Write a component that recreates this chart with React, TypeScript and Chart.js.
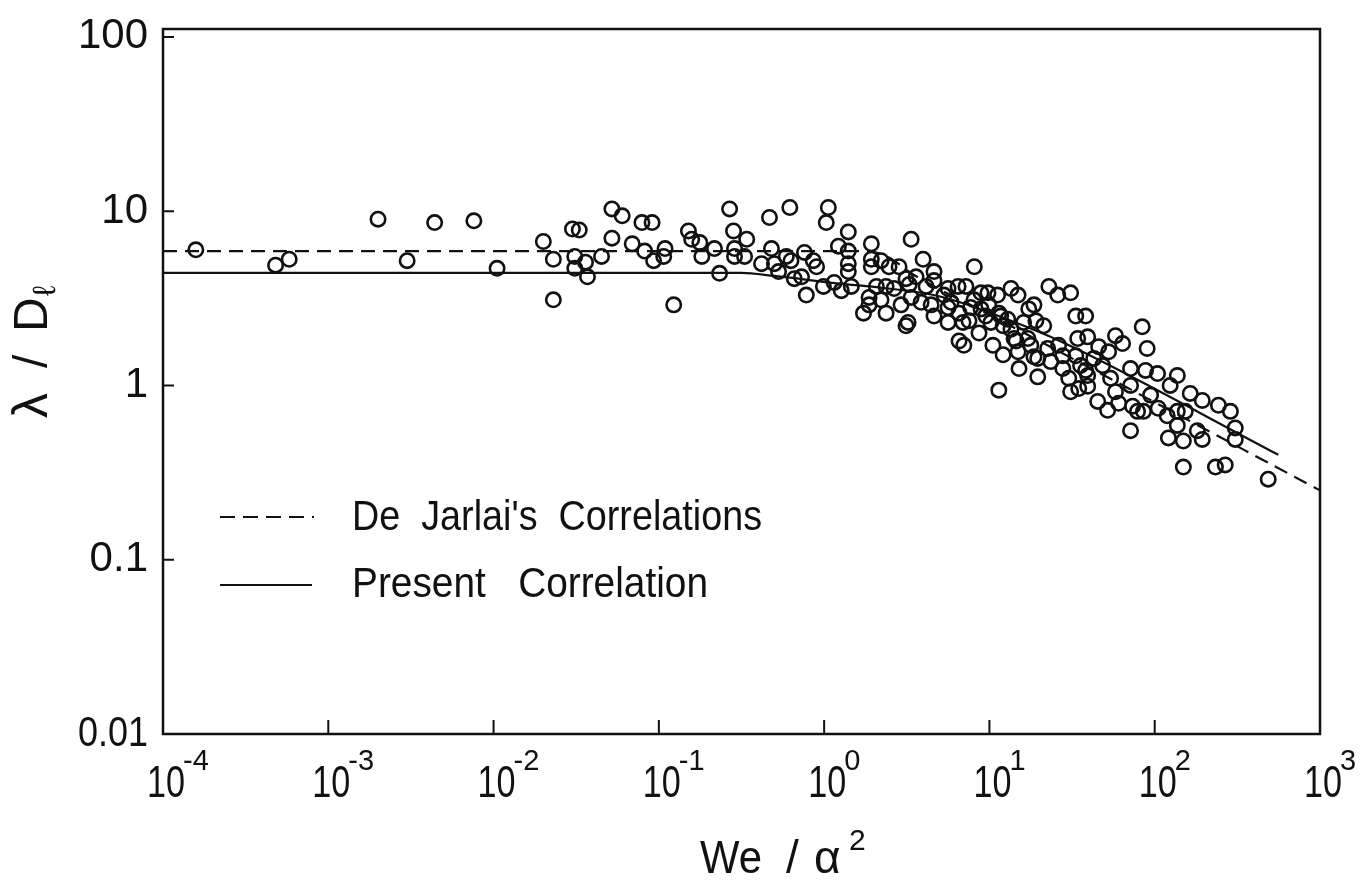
import React, { useEffect, useRef } from "react";
import { Chart, registerables } from "chart.js";

Chart.register(...registerables);

// Measured points: We / a^2 (x) and lambda / D_l (y)
const weValues = [
  1.58e-4, 4.8e-4, 5.8e-4, 2.0e-3, 3.0e-3, 4.4e-3, 7.6e-3, 1.05e-2, 2.0e-2, 2.3e-2,
  2.3e-2, 3.0e-2, 3.3e-2, 3.1e-2, 3.1e-2, 3.6e-2, 3.7e-2, 5.2e-2, 6.0e-2, 7.9e-2,
  9.1e-2, 5.2e-2, 4.5e-2, 6.9e-2, 8.2e-2, 9.3e-2, 0.107, 0.109, 0.123, 0.151,
  0.158, 0.177, 0.182, 0.217, 0.233, 0.268, 0.283, 0.34, 0.287, 0.287,
  0.33, 0.467, 0.418, 0.48, 0.5, 0.53, 0.62, 1.06, 1.03, 1.4,
  3.36, 3.97, 8.1, 0.59, 0.63, 0.76, 0.86, 0.9, 0.66, 0.73,
  0.78, 0.99, 1.15, 1.27, 1.46, 1.22, 1.4, 1.4, 1.4, 1.93,
  1.93, 1.93, 2.21, 2.47, 2.84, 2.07, 2.37, 2.65, 1.87, 2.21,
  1.87, 1.73, 2.37, 2.92, 3.22, 3.27, 3.6, 4.14, 4.62, 4.62,
  3.36, 3.86, 4.44, 4.62, 5.31, 5.62, 6.46, 7.21, 5.86, 5.62,
  6.55, 6.92, 7.52, 8.06, 8.89, 9.8, 11.2, 13.5, 14.9, 9.9,
  9.5, 8.65, 10.2, 11.7, 12.1, 12.9, 13.5, 14.5, 14.9, 15.1,
  16.1, 17.1, 6.55, 7.0, 10.5, 12.1, 11.4, 3.13, 3.13, 5.62,
  7.7, 8.9, 11.4, 14.1, 17.3, 19.1, 21.3, 17.8, 19.6, 19.6,
  22.5, 23.5, 26.2, 27.8, 27.8, 30.2, 34.2, 39.3, 33.3, 35.6,
  39.3, 34.7, 42.8, 45.2, 22.9, 25.9, 31, 33.3, 38.2, 18.6,
  31, 84, 90, 45.8, 52.6, 57.9, 63.9, 71.4, 88, 104,
  137, 124, 164, 194, 243, 287, 307, 307, 486, 149,
  233, 267, 18.6, 38.2, 39.3, 48.4, 54.1, 57.9, 51.9, 60.5,
  71.4, 73.5, 71.4, 78.7, 85.5, 94.4, 105, 119, 121, 137,
  137, 153, 149, 181, 194,
];

const lambdaValues = [
  6.0, 4.9, 5.3, 9.0, 5.2, 8.6, 8.8, 4.7, 6.7, 5.3,
  3.1, 7.9, 7.8, 5.5, 4.7, 5.1, 4.2, 10.3, 9.4, 8.6,
  8.6, 7.0, 5.5, 6.5, 5.9, 5.2, 5.5, 6.1, 2.9, 7.7,
  6.9, 6.6, 5.5, 6.1, 4.4, 10.3, 7.7, 6.9, 6.1, 5.5,
  5.5, 9.2, 5.0, 6.1, 5.0, 4.5, 10.5, 10.5, 8.6, 7.6,
  6.9, 5.3, 4.8, 5.5, 5.2, 5.8, 5.2, 4.8, 4.1, 4.2,
  3.3, 3.7, 3.9, 3.5, 3.7, 6.3, 5.9, 5.0, 4.5, 6.5,
  5.3, 4.8, 5.2, 4.8, 4.8, 3.7, 3.7, 3.6, 3.2, 3.1,
  2.9, 2.6, 2.6, 2.9, 2.3, 3.8, 4.2, 3.7, 4.5, 4.0,
  3.2, 3.0, 2.9, 2.5, 3.3, 3.6, 3.7, 3.7, 3.0, 2.3,
  2.6, 2.3, 2.35, 3.1, 3.4, 3.4, 3.3, 3.6, 3.3, 2.9,
  2.5, 2.0, 2.3, 2.5, 2.2, 2.4, 2.1, 1.8, 1.56, 1.25,
  2.3, 1.86, 1.8, 1.7, 1.7, 1.5, 0.94, 4.1, 2.2, 2.8,
  2.8, 2.75, 2.6, 1.86, 2.75, 2.35, 2.2, 1.7, 1.43, 1.12,
  1.63, 1.37, 1.7, 1.48, 1.25, 1.1, 1.86, 1.9, 1.48, 1.3,
  1.14, 0.96, 1.43, 0.81, 3.7, 3.3, 3.4, 2.5, 2.5, 1.46,
  0.92, 2.17, 1.63, 1.67, 1.56, 1.93, 1.74, 1.25, 1.22, 1.17,
  1.14, 1.0, 0.9, 0.82, 0.77, 0.71, 0.57, 0.49, 0.29, 0.34,
  0.34, 0.35, 2.9, 1.22, 0.99, 1.3, 1.1, 0.92, 0.72, 0.79,
  1.0, 0.76, 0.55, 0.71, 0.71, 0.88, 0.74, 0.67, 0.5, 0.59,
  0.71, 0.71, 0.48, 0.55, 0.49,
];

// De Jarlais correlation (dashed)
const deJarlaisWe = [1e-4, 1.8, 2.4, 3.5, 10, 100, 1000];
const deJarlaisLambda = [5.9, 5.9, 5.5, 4.3, 2.55, 0.8, 0.25];

// Present correlation (solid)
const presentWe = [1e-4, 0.316, 0.5, 1.27, 2.0, 5.1, 17.8, 32.4, 560];
const presentLambda = [4.43, 4.43, 4.25, 3.83, 3.68, 3.23, 2.12, 1.65, 0.4];

const xTickValues = [1e-4, 1e-3, 1e-2, 1e-1, 1, 10, 100, 1000];
const xTickExponents = ["-4", "-3", "-2", "-1", "0", "1", "2", "3"];
const yTickValues = [100, 10, 1, 0.1, 0.01];
const yTickLabels = ["100", "10", "1", "0.1", "0.01"];
const legendLabels = ["De  Jarlai's  Correlations", "Present   Correlation"];

const FONT = '"Liberation Sans", Arial, sans-serif';
const INK = "#111";

const decorPlugin = {
  id: "decor",
  afterDatasetsDraw(chart: any) {
    const { ctx, chartArea: a } = chart;
    const xs = chart.scales.x;
    const ys = chart.scales.y;
    ctx.save();
    ctx.strokeStyle = INK;
    ctx.fillStyle = INK;

    // frame
    ctx.lineWidth = 2.5;
    ctx.setLineDash([]);
    ctx.strokeRect(a.left, a.top, a.right - a.left, a.bottom - a.top);

    // inward ticks
    ctx.lineWidth = 2;
    ctx.beginPath();
    xTickValues.forEach((v) => {
      if (v <= xs.min || v >= xs.max) return;
      const px = xs.getPixelForValue(v);
      ctx.moveTo(px, a.bottom);
      ctx.lineTo(px, a.bottom - 14);
    });
    yTickValues.forEach((v) => {
      if (v <= ys.min || v >= ys.max) return;
      const py = ys.getPixelForValue(v);
      ctx.moveTo(a.left, py);
      ctx.lineTo(a.left + 11, py);
    });
    ctx.stroke();

    // y tick labels
    ctx.font = `42px ${FONT}`;
    ctx.textAlign = "right";
    ctx.textBaseline = "middle";
    yTickValues.forEach((v, i) => {
      ctx.fillText(yTickLabels[i], a.left - 15, ys.getPixelForValue(v), 70);
    });

    // x tick labels 10^n
    xTickValues.forEach((v, i) => {
      const px = xs.getPixelForValue(v);
      ctx.font = `44px ${FONT}`;
      ctx.textAlign = "center";
      ctx.textBaseline = "alphabetic";
      ctx.fillText("10", px + 3, a.bottom + 63, 38);
      ctx.font = `29px ${FONT}`;
      ctx.textAlign = "left";
      ctx.fillText(xTickExponents[i], px + 20, a.bottom + 36);
    });

    // x axis title: We / a^2
    ctx.textAlign = "left";
    ctx.textBaseline = "alphabetic";
    ctx.font = `46px ${FONT}`;
    ctx.fillText("We", 700, 873, 62);
    ctx.fillText("/", 786, 873);
    ctx.fillText("\u03b1", 814, 873);
    ctx.font = `30px ${FONT}`;
    ctx.fillText("2", 849, 850);

    // y axis title: lambda / D_l (rotated)
    ctx.save();
    ctx.translate(47, 418);
    ctx.rotate(-Math.PI / 2);
    ctx.font = `50px ${FONT}`;
    ctx.fillText("\u03bb", 0, 0);
    ctx.font = `48px ${FONT}`;
    ctx.fillText("/", 50, 0);
    ctx.fillText("D", 86, 0);
    ctx.font = `32px ${FONT}`;
    ctx.fillText("\u2113", 122, 8);
    ctx.restore();

    // legend
    ctx.lineWidth = 2;
    ctx.beginPath();
    ctx.setLineDash([15, 8]);
    ctx.moveTo(220, 517);
    ctx.lineTo(314, 517);
    ctx.stroke();
    ctx.setLineDash([]);
    ctx.beginPath();
    ctx.moveTo(220, 585);
    ctx.lineTo(312, 585);
    ctx.stroke();
    ctx.font = `42px ${FONT}`;
    ctx.textAlign = "left";
    ctx.textBaseline = "middle";
    ctx.fillText(legendLabels[0], 352, 518, 410);
    ctx.fillText(legendLabels[1], 352, 585, 356);

    ctx.restore();
  },
};

export default function App() {
  const canvasRef = useRef<HTMLCanvasElement | null>(null);

  useEffect(() => {
    const canvas = canvasRef.current;
    if (!canvas) return;
    const points = weValues.map((x, i) => ({ x, y: lambdaValues[i] }));
    const dashed = deJarlaisWe.map((x, i) => ({ x, y: deJarlaisLambda[i] }));
    const solid = presentWe.map((x, i) => ({ x, y: presentLambda[i] }));

    const chart = new Chart(canvas, {
      type: "scatter",
      data: {
        datasets: [
          {
            label: "Data",
            data: points,
            showLine: false,
            pointStyle: "circle",
            pointRadius: 7.2,
            pointBorderWidth: 2.6,
            pointBorderColor: INK,
            pointBackgroundColor: "rgba(0,0,0,0)",
            borderColor: INK,
            backgroundColor: "rgba(0,0,0,0)",
          },
          {
            label: "De Jarlai's Correlations",
            data: dashed,
            showLine: true,
            borderColor: INK,
            borderWidth: 2.2,
            borderDash: [14, 8],
            pointRadius: 0,
            cubicInterpolationMode: "monotone",
            fill: false,
          },
          {
            label: "Present Correlation",
            data: solid,
            showLine: true,
            borderColor: INK,
            borderWidth: 2.2,
            pointRadius: 0,
            cubicInterpolationMode: "monotone",
            fill: false,
          },
        ],
      },
      options: {
        responsive: false,
        animation: false,
        devicePixelRatio: 1,
        layout: { padding: { left: 163, right: 51, top: 29, bottom: 158 } },
        scales: {
          x: { type: "logarithmic", min: 1e-4, max: 1000, display: false },
          y: { type: "logarithmic", min: 0.01, max: 111, display: false },
        },
        plugins: {
          legend: { display: false },
          tooltip: { enabled: false },
        },
      },
      plugins: [decorPlugin],
    } as any);

    return () => chart.destroy();
  }, []);

  return (
    <div style={{ position: "absolute", left: 0, top: 0, width: 1371, height: 892, background: "#fff" }}>
      <canvas ref={canvasRef} width={1371} height={892} style={{ display: "block" }} />
    </div>
  );
}
